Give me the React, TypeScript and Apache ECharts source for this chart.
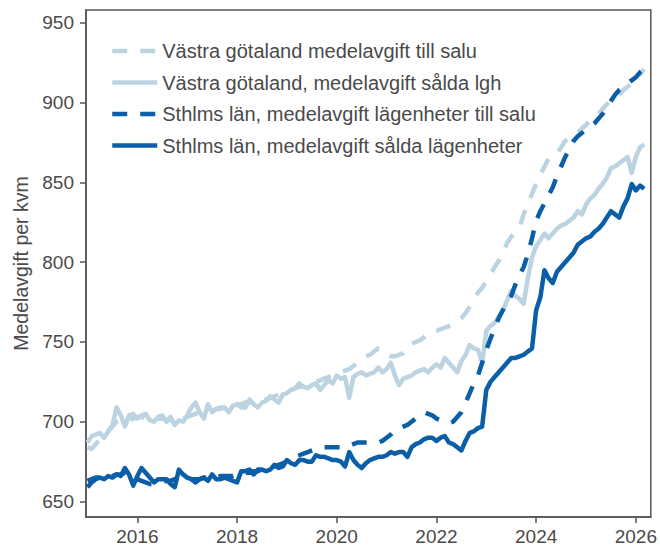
import React, { useEffect, useRef } from "react";
import * as echarts from "echarts";

// Monthly data, first value = January 2015, last value = March 2026
const START_YEAR = 2015;

const yearTicks = [2016, 2018, 2020, 2022, 2024, 2026];
const valueTicks = [650, 700, 750, 800, 850, 900, 950];

const seriesNames = [
  "Västra götaland medelavgift till salu",
  "Västra götaland, medelavgift sålda lgh",
  "Sthlms län, medelavgift lägenheter till salu",
  "Sthlms län, medelavgift sålda lägenheter",
];

const vgForSale = [
  684, 683, 686, 689, 692, 694, 697, 700, 701, 700, 701, 702,
  703, 703, 702, 701, 701, 702, 702, 701, 701, 700, 701, 702,
  703, 704, 705, 706, 706, 707, 707, 708, 708, 709, 709, 710,
  711, 711, 712, 712, 713, 713, 714, 714, 715, 716, 717, 718,
  719, 720, 721, 722, 722, 723, 724, 725, 726, 727, 728, 729,
  730, 731, 732, 733, 735, 737, 739, 741, 742, 744, 746, 744,
  742, 741, 741, 742, 743, 747, 749, 750, 751, 753, 755, 757,
  757, 758, 759, 760, 761, 763, 765, 768, 772, 776, 781, 784,
  788, 792, 797, 801, 806, 812, 816, 819, 822, 830, 836, 843,
  849, 855, 860, 865, 866, 868, 872, 876, 878, 880, 881, 884,
  886, 889, 891, 893, 896, 899, 901, 903, 905, 908, 910, 912,
  915, 918, 921,
];

const vgSold = [
  687, 691, 692, 693, 690, 694, 698, 709, 704, 697, 704, 705,
  702, 704, 705, 701, 700, 703, 704, 700, 703, 698, 701, 700,
  704, 709, 712, 706, 702, 711, 706, 708, 709, 709, 706, 710,
  711, 709, 709, 714, 711, 709, 712, 713, 716, 714, 712, 717,
  718, 720, 721, 724, 722, 721, 723, 724, 720, 723, 726, 724,
  729, 727, 728, 715, 728, 730, 731, 729, 730, 731, 734, 731,
  733, 737, 729, 723, 727, 728, 729, 731, 732, 733, 731, 734,
  736, 734, 740, 737, 734, 731, 738, 742, 748, 746, 745, 737,
  757, 760, 762, 766, 770, 776, 782, 779, 777, 774, 790, 803,
  810, 814, 818, 815, 818, 821, 823, 824, 826, 828, 832, 830,
  836, 840, 842, 846, 849, 853, 859, 860, 862, 864, 866, 856,
  866, 872, 874,
];

const sthlmForSale = [
  659, 662, 664, 665, 665, 666, 666, 667, 667, 668, 667, 666,
  664, 663, 662, 661, 661, 662, 662, 663, 663, 664, 665, 665,
  665, 664, 664, 664, 665, 665, 665, 665, 666, 666, 666, 666,
  667, 667, 668, 668, 669, 669, 670, 671, 672, 672, 673, 674,
  675, 677, 678, 679, 680, 681, 682, 683, 684, 684, 684, 684,
  684, 684, 684, 685, 686, 687, 687, 687, 687, 687, 687, 688,
  690, 692, 695, 696, 697, 698, 700, 702, 704, 706, 705, 704,
  702, 701, 700, 699, 700, 703, 706, 712, 718, 724, 729, 737,
  745, 752, 759, 765, 770, 775, 779, 786, 792, 797, 805, 815,
  826, 832, 837, 842, 847, 854, 860, 866, 871, 876, 879, 881,
  883, 885, 887, 890, 893, 897, 901, 905, 908, 910, 912, 914,
  916, 919, 921,
];

const sthlmSold = [
  663, 664, 665, 665, 664, 666, 665, 667, 666, 671, 667, 660,
  666, 671, 668, 665, 662, 664, 664, 664, 661, 659, 670, 667,
  665, 664, 662, 664, 665, 663, 667, 664, 664, 665, 664, 663,
  662, 669, 669, 670, 667, 670, 670, 669, 670, 673, 671, 672,
  676, 674, 673, 676, 676, 675, 675, 679, 678, 678, 677, 676,
  676, 675, 672, 681, 676, 673, 671, 674, 676, 677, 678, 678,
  679, 681, 680, 681, 681, 678, 684, 686, 687, 689, 690, 690,
  688, 690, 691, 687, 686, 684, 682, 688, 693, 694, 696, 697,
  720, 725, 728, 731, 734, 737, 740, 740, 741, 742, 744, 746,
  770, 778, 795, 790, 787, 794, 797, 800, 803, 806, 811, 813,
  815, 816, 819, 821, 824, 828, 832, 830, 828, 835, 840, 849,
  845, 848, 846,
];

const LIGHT = "#bcd4e2";
const DARK = "#0b5ea8";
const TEXT = "#4a4a4a";
const AXIS = "#555555";
const FONT = "'Liberation Sans', Arial, Helvetica, sans-serif";
const DASH = [15, 13];
const LINE_W = 4.5;

const toPairs = (vals: number[]) =>
  vals.map((v, i) => [START_YEAR + i / 12, v]);

export default function App() {
  const ref = useRef<HTMLDivElement>(null);

  useEffect(() => {
    document.body.style.margin = "0";
    if (!ref.current) return;
    const chart = echarts.init(ref.current, undefined, { renderer: "svg" });

    const defs = [
      { name: seriesNames[0], data: vgForSale, color: LIGHT, dashed: true },
      { name: seriesNames[1], data: vgSold, color: LIGHT, dashed: false },
      { name: seriesNames[2], data: sthlmForSale, color: DARK, dashed: true },
      { name: seriesNames[3], data: sthlmSold, color: DARK, dashed: false },
    ];

    chart.setOption({
      animation: false,
      backgroundColor: "#ffffff",
      textStyle: { fontFamily: FONT },
      grid: {
        left: 86,
        right: 5,
        top: 10,
        bottom: 33,
        show: true,
        borderColor: AXIS,
        borderWidth: 1.5,
        backgroundColor: "transparent",
      },
      legend: {
        orient: "vertical",
        left: 105,
        top: 36,
        itemWidth: 45,
        itemHeight: 14,
        itemGap: 11.5,
        itemStyle: { opacity: 0 },
        lineStyle: { width: LINE_W },
        textStyle: {
          fontSize: 20,
          lineHeight: 20,
          color: TEXT,
          fontFamily: FONT,
        },
        data: seriesNames,
      },
      xAxis: {
        type: "value",
        min: 2014.97,
        max: 2026.3,
        splitLine: { show: false },
        axisLine: { show: true, lineStyle: { color: AXIS, width: 1.5 } },
        axisTick: {
          show: true,
          length: 6,
          inside: false,
          lineStyle: { color: AXIS, width: 1.5 },
          customValues: yearTicks,
        },
        axisLabel: {
          customValues: yearTicks,
          fontSize: 19,
          color: TEXT,
          fontFamily: FONT,
          margin: 10,
          formatter: (v: number) => String(Math.round(v)),
        },
      },
      yAxis: {
        type: "value",
        min: 640.3,
        max: 958.1,
        name: "Medelavgift per kvm",
        nameLocation: "middle",
        nameRotate: 90,
        nameGap: 54,
        nameTextStyle: { fontSize: 19.5, color: TEXT, fontFamily: FONT },
        splitLine: { show: false },
        axisLine: { show: true, lineStyle: { color: AXIS, width: 1.5 } },
        axisTick: {
          show: true,
          length: 6,
          inside: false,
          lineStyle: { color: AXIS, width: 1.5 },
          customValues: valueTicks,
        },
        axisLabel: {
          customValues: valueTicks,
          fontSize: 19,
          color: TEXT,
          fontFamily: FONT,
          margin: 12,
        },
      },
      series: defs.map((d) => ({
        name: d.name,
        type: "line",
        symbol: "none",
        showSymbol: false,
        data: toPairs(d.data),
        itemStyle: { color: d.color },
        lineStyle: {
          color: d.color,
          width: LINE_W,
          type: d.dashed ? DASH : "solid",
          cap: "butt",
          join: "round",
        },
      })),
    });

    return () => chart.dispose();
  }, []);

  return <div ref={ref} style={{ width: 660, height: 550 }} />;
}
